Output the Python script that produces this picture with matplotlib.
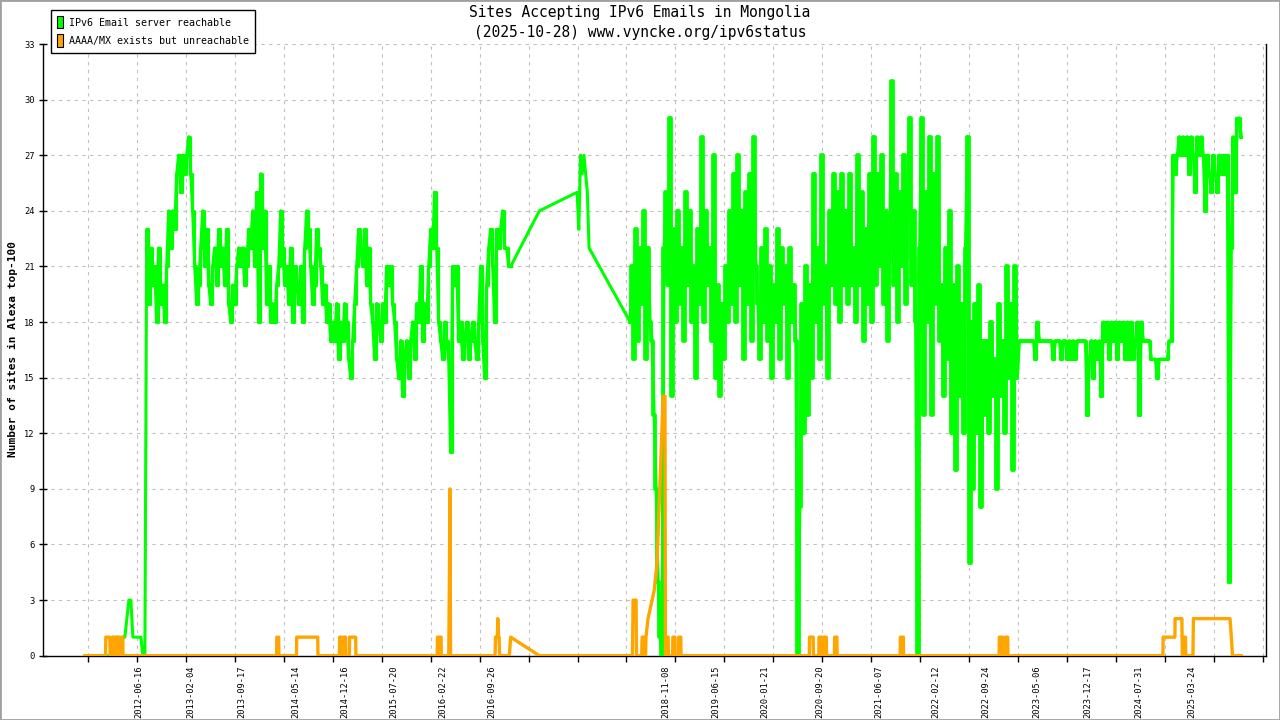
# Sites Accepting IPv6 Emails in Mongolia -- gnuplot-style status chart
import numpy as np
import matplotlib
matplotlib.use("Agg")
import matplotlib.pyplot as plt
import matplotlib.dates as mdates
from matplotlib.patches import Patch, Rectangle

plt.rcParams["font.family"] = ["DejaVu Sans Mono", "DejaVu Sans"]

GREEN = "#00ff00"
ORANGE = "#ffa500"
GRID = "#c0c0c0"

# ---- reachable (green) : segments of evenly spaced samples ----
green_a_span = ("2011-10-23", "2012-07-15")
green_a = [0] * 14 + [1, 0, 1, 1, 0, 1, 1, 2, 3, 3, 1, 1, 1, 1, 1, 0, 0]

green_b_span = ("2012-07-23", "2016-12-20")
green_b = [
    23, 19, 22, 20, 21, 18, 22, 19, 20, 18, 21,
    24, 22, 24, 23, 26,
    27, 25, 27, 26, 27, 28, 26,
    24, 21, 19, 20, 22,
    24, 21, 23, 20, 19,
    21, 22, 20, 23, 21, 22, 20, 23, 19,
    18, 20, 19, 21, 22,
    21, 22, 20, 21, 23, 22,
    24, 21, 25, 18, 26, 22, 24, 19,
    21, 18, 19, 18, 20, 21,
    24, 22, 20, 21, 19,
    22, 18, 21, 20, 19,
    21, 18, 22, 24, 23, 21,
    19, 20, 23, 22, 21,
    19, 20, 18, 19, 17,
    18, 17, 19, 16, 18, 17, 19, 18, 16, 15, 17,
    19, 21, 23, 22, 21, 23, 20, 22,
    19, 18, 16, 19, 18, 17, 19, 18, 21,
    20, 21, 19, 18,
    16, 15, 17, 14, 16, 17, 15,
    17, 18, 16, 19, 18, 21, 17, 19, 18,
    21, 23, 22, 25, 22,
    18, 17, 16, 18, 17, 16,
    11,
    21, 20, 21,
    17, 18, 16, 17, 18, 16, 17, 18, 17, 16, 18,
    21, 17, 15, 20,
    22, 23, 21, 18, 23, 22, 23, 24,
    22, 22, 21, 21,
]

green_c_dates = ["2017-04-26"]
green_c = [24]

green_d_span = ("2017-10-10", "2017-12-02")
green_d = [25, 23, 27, 26, 27, 26, 25, 22]

green_e_span = ("2018-06-02", "2023-02-10")
green_e = [
    18, 21, 16, 23, 17, 22, 19, 24, 16, 22, 18,
    17, 13, 9, 4, 1, 0,
    22, 25, 20, 29, 14,
    23, 18, 24, 19, 22, 17, 25, 20, 24, 18, 21, 15, 23, 19, 28, 18, 24, 20, 22, 17, 27, 15,
    20, 14, 19, 16, 21, 18,
    24, 19, 26, 18, 27, 20, 24, 16, 25, 19, 26, 17, 28, 21,
    19, 16, 22, 18, 23, 17, 21, 15, 20, 18, 23, 16, 22, 19, 21, 15, 22, 18, 20, 17,
    0, 8,
    19, 12, 21, 13, 20, 15, 26, 18, 22, 16, 27, 19, 21, 15, 24,
    20, 26, 19, 25, 18, 26, 20, 24, 19, 26, 20,
    22, 18, 27, 20, 25, 17, 23, 19, 26, 18,
    28, 20, 26, 21, 27, 19, 24, 17, 22,
    31,
    20, 26, 18, 25, 21, 27, 19, 25, 29, 20, 24, 18,
    0,
    22, 29, 13, 25, 18, 28, 13, 26, 19, 28, 17,
    20, 14, 22, 16, 24, 12, 20, 10, 21, 14, 19, 12, 22,
    28, 5,
    18, 9, 19, 12, 20, 8, 17, 13,
    17, 12, 18, 14, 16, 9, 19, 14, 17, 12, 21, 15, 19, 10, 21, 15,
]

green_f_span = ("2023-02-19", "2025-10-28")
green_f = [
    17, 17, 17, 17, 17, 17, 17, 17,
    16, 18, 17,
    17, 17, 17, 17, 17, 17, 16, 17, 17, 17, 16, 17, 17, 16, 17, 16, 17, 16, 17, 17, 17, 17, 17,
    13,
    16, 17, 15, 17, 16, 17,
    14, 18,
    17, 18, 16, 18, 17, 18, 16, 18, 17, 18, 16, 18,
    16, 18, 16, 17, 18, 13, 18,
    17, 17, 17, 17, 16,
    16, 16, 15, 16, 16, 16, 16, 16, 17,
    17, 27, 26,
    27, 28, 27, 28, 27, 28, 26, 28, 27, 25, 28, 27, 28,
    27, 24, 27, 26, 25, 27, 26, 25, 27, 26, 27, 26, 27,
    4,
    22, 28, 25, 29, 29, 28,
]

# ---- AAAA/MX exists but unreachable (orange) : breakpoints ----
orange_dates = [
    "2011-10-23",
    "2012-01-23", "2012-01-24", "2012-02-11", "2012-02-12",
    "2012-02-23", "2012-02-24", "2012-03-08", "2012-03-09",
    "2012-03-16", "2012-03-17", "2012-03-22", "2012-03-23",
    "2012-03-30", "2012-03-31", "2012-04-08", "2012-04-09",
    "2014-02-18", "2014-02-19", "2014-02-27", "2014-02-28",
    "2014-05-17", "2014-05-18", "2014-08-19", "2014-08-20",
    "2014-11-23", "2014-11-24", "2014-12-03", "2014-12-04",
    "2014-12-11", "2014-12-12", "2014-12-20", "2014-12-21",
    "2015-01-06", "2015-01-07", "2015-02-03", "2015-02-04",
    "2016-01-30", "2016-01-31", "2016-02-04", "2016-02-05",
    "2016-02-10", "2016-02-11", "2016-02-16", "2016-02-17",
    "2016-03-21", "2016-03-24", "2016-03-26", "2016-03-29",
    "2016-10-12", "2016-10-14", "2016-10-22", "2016-10-24", "2016-10-27", "2016-10-30", "2016-11-01",
    "2016-12-14", "2016-12-20",
    "2017-04-26",
    "2018-06-12", "2018-06-15", "2018-06-28", "2018-06-30",
    "2018-07-23", "2018-07-25", "2018-08-01", "2018-08-03", "2018-08-09", "2018-08-11",
    "2018-08-20", "2018-08-29", "2018-09-16", "2018-09-29", "2018-10-08", "2018-10-17",
    "2018-10-26", "2018-11-03", "2018-11-05",
    "2018-11-12", "2018-11-13", "2018-11-17", "2018-11-18",
    "2018-12-07", "2018-12-08", "2018-12-17", "2018-12-18",
    "2019-01-02", "2019-01-03", "2019-01-12", "2019-01-13",
    "2020-08-03", "2020-08-04", "2020-08-20", "2020-08-21",
    "2020-09-14", "2020-09-15", "2020-09-28", "2020-09-29",
    "2020-10-05", "2020-10-06", "2020-10-17", "2020-10-18",
    "2020-11-22", "2020-11-23", "2020-12-03", "2020-12-04",
    "2021-09-09", "2021-09-10", "2021-09-23", "2021-09-24",
    "2022-11-21", "2022-11-22", "2022-12-05", "2022-12-06",
    "2022-12-17", "2022-12-18", "2022-12-29", "2022-12-30",
    "2024-11-15", "2024-11-16", "2025-01-07", "2025-01-08", "2025-02-07", "2025-02-09",
    "2025-02-19", "2025-02-20", "2025-02-23", "2025-02-24",
    "2025-03-28", "2025-03-30", "2025-09-08", "2025-09-14", "2025-09-19",
    "2025-10-28",
]
orange_vals = [
    0,
    0, 1, 1, 0,
    0, 1, 1, 0,
    0, 1, 1, 0,
    0, 1, 1, 0,
    0, 1, 1, 0,
    0, 1, 1, 0,
    0, 1, 1, 0,
    0, 1, 1, 0,
    0, 1, 1, 0,
    0, 1, 1, 0,
    0, 1, 1, 0,
    0, 4.5, 9, 0,
    0, 1, 1, 2, 1, 1, 0,
    0, 1,
    0,
    0, 3, 3, 0,
    0, 1, 1, 0, 0, 1,
    2, 2.5, 3.5, 5, 8, 11,
    14, 14, 0,
    0, 1, 1, 0,
    0, 1, 1, 0,
    0, 1, 1, 0,
    0, 1, 1, 0,
    0, 1, 1, 0,
    0, 1, 1, 0,
    0, 1, 1, 0,
    0, 1, 1, 0,
    0, 1, 1, 0,
    0, 1, 1, 0,
    0, 1, 1, 2, 2, 0,
    0, 1, 1, 0,
    0, 2, 2, 1, 0,
    0,
]

# axis layout (gnuplot style)
y_ticks = list(range(0, 34, 3))
x_label_dates = [
    "2012-06-16", "2013-02-04", "2013-09-17", "2014-05-14", "2014-12-16",
    "2015-07-20", "2016-02-22", "2016-09-26", "2018-11-08", "2019-06-15",
    "2020-01-21", "2020-09-20", "2021-06-07", "2022-02-12", "2022-09-24",
    "2023-05-06", "2023-12-17", "2024-07-31", "2025-03-24",
]
x_range = ("2011-04-21", "2026-02-13")
tick_start, tick_step, tick_count = "2011-11-07", 216.6, 25


def seg(span, vals):
    a, b = mdates.datestr2num(span[0]), mdates.datestr2num(span[1])
    return np.linspace(a, b, len(vals))


gx = np.concatenate([
    seg(green_a_span, green_a),
    seg(green_b_span, green_b),
    mdates.datestr2num(green_c_dates),
    seg(green_d_span, green_d),
    seg(green_e_span, green_e),
    seg(green_f_span, green_f),
])
gy = np.array(green_a + green_b + green_c + green_d + green_e + green_f, dtype=float)
ox = mdates.datestr2num(orange_dates)
oy = np.array(orange_vals, dtype=float)

fig = plt.figure(figsize=(12.8, 7.2), dpi=100)
ax = fig.add_axes([43 / 1280, 1 - 655.7 / 720, (1265.7 - 43) / 1280, (655.7 - 44) / 720])

ax.plot(gx, gy, color=GREEN, lw=2.2, zorder=3)
# the daily samples draw as a solid band: overlay the dense parts as steps
for span, vals, w in ((green_b_span, green_b, 2.3), (green_e_span, green_e, 2.7),
                      (green_f_span, green_f, 2.3)):
    ax.plot(seg(span, vals), vals, color=GREEN, lw=w, drawstyle="steps-mid", zorder=3)
ax.plot(ox, oy, color=ORANGE, lw=2.4, zorder=4)

x0, x1 = mdates.datestr2num(x_range[0]), mdates.datestr2num(x_range[1])
ax.set_xlim(x0, x1)
ax.set_ylim(0, 33)

major = mdates.datestr2num(tick_start) + tick_step * np.arange(tick_count)
major = major[major <= x1]
ax.set_xticks(major)
ax.set_xticklabels([])
ax.set_xticks(mdates.datestr2num(x_label_dates), minor=True)
ax.set_xticklabels(x_label_dates, minor=True, rotation=90, fontsize=6.3)
ax.tick_params(axis="x", which="major", direction="out", length=4, width=1, color="black")
ax.tick_params(axis="x", which="minor", length=0, pad=7)

ax.set_yticks(y_ticks)
ax.set_yticklabels([str(v) for v in y_ticks], fontsize=6.3)
ax.tick_params(axis="y", direction="inout", length=6, width=1, pad=3)

ax.grid(True, which="major", color=GRID, linestyle=(0, (3, 4)), linewidth=0.8)
ax.set_axisbelow(True)

ax.spines["top"].set_visible(False)
for side in ("left", "bottom", "right"):
    ax.spines[side].set_color("black")
    ax.spines[side].set_linewidth(1)

fig.text(0.5, 1 - 13 / 720, "Sites Accepting IPv6 Emails in Mongolia",
         ha="center", va="center", fontsize=10.5)
fig.text(0.5, 1 - 32 / 720, "(2025-10-28) www.vyncke.org/ipv6status",
         ha="center", va="center", fontsize=10.5)
fig.text(13 / 1280, 1 - 349 / 720, "Number of sites in Alexa top-100",
         rotation=90, ha="center", va="center", fontsize=8, fontweight="bold")

handles = [
    Patch(facecolor=GREEN, edgecolor="black", lw=0.8, label="IPv6 Email server reachable"),
    Patch(facecolor=ORANGE, edgecolor="black", lw=0.8, label="AAAA/MX exists but unreachable"),
]
leg = fig.legend(handles=handles, loc="upper left", bbox_to_anchor=(50.7 / 1280, 1 - 10.3 / 720),
                 borderaxespad=0, fontsize=7.2, handlelength=0.6, handleheight=1.5,
                 handletextpad=0.6, labelspacing=0.6, borderpad=0.6,
                 fancybox=False, framealpha=1, edgecolor="black")
leg.get_frame().set_linewidth(1)

fig.patches.append(Rectangle((0, 0), 1, 1, transform=fig.transFigure, fill=False,
                             edgecolor="#a0a0a0", lw=2))

fig.savefig("out.png", dpi=100)
